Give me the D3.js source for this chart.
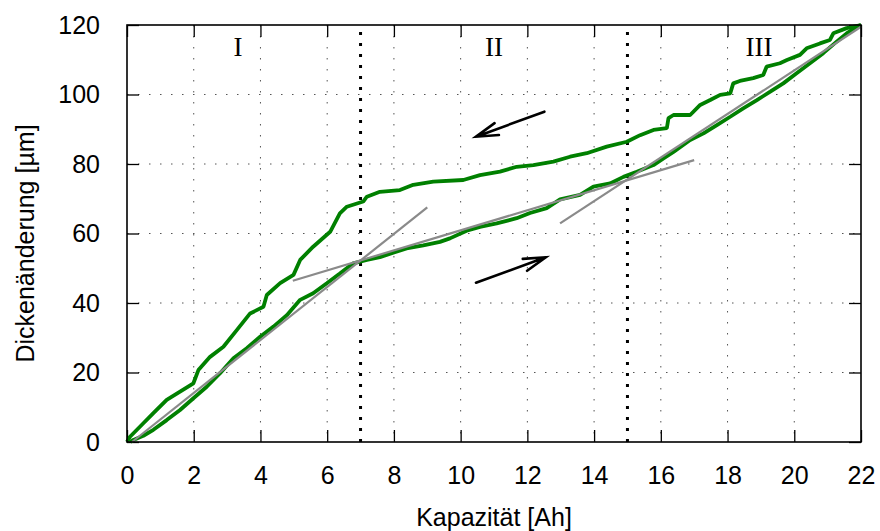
<!DOCTYPE html>
<html>
<head>
<meta charset="utf-8">
<script src="https://cdn.jsdelivr.net/npm/d3@7"></script>
<style>
  html, body { margin: 0; padding: 0; background: #fff; }
  svg { display: block; }
</style>
</head>
<body>
<svg id="chart" width="880" height="531"></svg>
<script>
// ---- data ----
const xTicks = [0, 2, 4, 6, 8, 10, 12, 14, 16, 18, 20, 22];
const yTicks = [0, 20, 40, 60, 80, 100, 120];
const xTitle = "Kapazität [Ah]";
const yTitle = "Dickenänderung [µm]";

// charge curve (lower branch)
const chargeX = [0.1,0.19,0.49,0.79,1.19,1.59,1.99,2.39,2.79,3.19,3.59,3.99,4.39,4.79,5.19,5.58,5.99,6.38,6.78,7.19,7.58,7.98,8.38,8.88,9.38,9.68,10.18,10.58,11.08,11.68,12.08,12.58,12.98,13.58,13.98,14.48,14.88,15.28,15.78,16.08,16.38,16.88,17.28,17.68,18.08,18.47,18.88,19.28,19.67,20.07,20.47,20.87,21.27,21.57,21.87,22.0];
const chargeY = [0,0.6,1.8,3.5,6.3,9.2,12.6,15.9,19.8,24.1,27.0,30.3,33.2,36.5,40.9,42.8,45.7,48.5,51.4,52.4,53.2,54.5,55.7,56.6,57.6,58.6,60.8,61.9,62.9,64.4,65.9,67.3,69.8,71.1,73.5,74.4,76.3,77.8,79.7,81.6,83.5,86.9,88.8,91.2,93.6,96.0,98.4,100.8,103.2,106.1,109.0,111.9,115.2,117.6,119.5,120];

// discharge curve (upper branch)
const dischargeX = [0.0,0.09,0.49,0.79,1.19,1.59,1.99,2.14,2.49,2.89,3.29,3.69,4.09,4.19,4.59,4.99,5.19,5.58,6.09,6.38,6.59,7.08,7.19,7.58,8.18,8.58,9.18,10.08,10.58,11.18,11.68,12.18,12.78,13.28,13.78,14.38,14.98,15.38,15.78,16.18,16.23,16.38,16.88,17.18,17.48,17.78,18.08,18.17,18.37,18.77,19.07,19.17,19.57,19.78,20.17,20.37,20.77,21.07,21.17,21.57,22.0];
const dischargeY = [0,1.5,5.4,8.3,12.1,14.5,16.9,20.7,24.5,27.4,32.2,37.0,38.9,42.3,45.7,48.1,52.4,56.2,60.5,65.8,67.7,69.2,70.6,72.0,72.5,74.0,74.9,75.4,76.8,77.8,79.2,79.7,80.7,82.1,83.1,85.0,86.4,88.3,89.8,90.3,93.2,94.1,94.1,97.0,98.4,99.9,100.3,103.2,103.9,104.7,105.6,108.0,109.0,109.9,111.4,113.3,114.7,115.7,117.6,119.1,120];

// fitted straight lines [x1, y1, x2, y2]
const fitLine1 = [0.15, 0, 9.0, 67.5];
const fitLine2 = [4.97, 46.4, 17.0, 81.1];
const fitLine3 = [12.98, 62.9, 22.0, 119.5];

// region boundaries
const boundaries = [7, 15];

// direction arrows [xTail, yTail, xTip, yTip]
const arrowDischarge = [12.51, 95.05, 10.46, 87.86];
const arrowCharge = [10.46, 45.85, 12.55, 53.15];

// region labels
const regionLabels = ["I", "II", "III"];
const regionLabelX = [3.33, 11.0, 18.94];
const regionLabelY = [111.0, 111.0, 111.0];

// ---- layout ----
const W = 880, H = 531;
const m = {left: 127, right: 19, top: 25, bottom: 89};
const iw = W - m.left - m.right, ih = H - m.top - m.bottom;

const svg = d3.select("#chart");
const g = svg.append("g").attr("transform", `translate(${m.left},${m.top})`);

const x = d3.scaleLinear().domain([0, 22]).range([0, iw]);
const y = d3.scaleLinear().domain([0, 120]).range([ih, 0]);

// grid
const gridStyle = sel => sel.attr("stroke", "#555").attr("stroke-width", 1).attr("stroke-dasharray", "1.5,9.5");
g.append("g").selectAll("line").data(xTicks.filter(t => t > 0 && t < 22)).join("line")
  .attr("x1", d => x(d)).attr("x2", d => x(d)).attr("y1", 0).attr("y2", ih).call(gridStyle);
g.append("g").selectAll("line").data(yTicks.filter(t => t > 0 && t < 120)).join("line")
  .attr("y1", d => y(d)).attr("y2", d => y(d)).attr("x1", 0).attr("x2", iw).call(gridStyle);

// axes (inner ticks, mirrored)
const tickLen = 12;
const font = "'Liberation Sans', Arial, sans-serif";
const axB = g.append("g").attr("transform", `translate(0,${ih})`)
  .call(d3.axisBottom(x).tickValues(xTicks).tickSizeInner(-tickLen).tickSizeOuter(0).tickPadding(tickLen + 12));
const axL = g.append("g")
  .call(d3.axisLeft(y).tickValues(yTicks).tickSizeInner(-tickLen).tickSizeOuter(0).tickPadding(tickLen + 15));
const axT = g.append("g")
  .call(d3.axisTop(x).tickValues(xTicks).tickSizeInner(-tickLen).tickSizeOuter(0).tickFormat(""));
const axR = g.append("g").attr("transform", `translate(${iw},0)`)
  .call(d3.axisRight(y).tickValues(yTicks).tickSizeInner(-tickLen).tickSizeOuter(0).tickFormat(""));
[axB, axL, axT, axR].forEach(a => {
  a.select(".domain").remove();
  a.selectAll(".tick line").attr("stroke", "#000").attr("stroke-width", 1.3);
  a.selectAll("text").attr("font-family", font).attr("font-size", 25).attr("fill", "#000");
});

// boundaries
g.append("g").selectAll("line").data(boundaries).join("line")
  .attr("x1", d => x(d)).attr("x2", d => x(d)).attr("y1", y(0)).attr("y2", y(120))
  .attr("stroke", "#000").attr("stroke-width", 3).attr("stroke-dasharray", "3,8");

// curves
const line = d3.line().x(d => x(d[0])).y(d => y(d[1])).curve(d3.curveLinear);
const chargeData = chargeX.map((v, i) => [v, chargeY[i]]);
const dischargeData = dischargeX.map((v, i) => [v, dischargeY[i]]);
[chargeData, dischargeData].forEach(dd => {
  g.append("path").datum(dd).attr("d", line)
    .attr("fill", "none").attr("stroke", "#008000").attr("stroke-width", 3.8)
    .attr("stroke-linejoin", "bevel");
});

// fit lines (drawn above the curves)
g.append("g").selectAll("line").data([fitLine1, fitLine2, fitLine3]).join("line")
  .attr("x1", d => x(d[0])).attr("y1", d => y(d[1])).attr("x2", d => x(d[2])).attr("y2", d => y(d[3]))
  .attr("stroke", "#8a8a8a").attr("stroke-width", 2.2);

// arrows
function drawArrow(a) {
  const x1 = x(a[0]), y1 = y(a[1]), x2 = x(a[2]), y2 = y(a[3]);
  const ang = Math.atan2(y1 - y2, x1 - x2);
  const L = 23, half = 16 * Math.PI / 180;
  const p1 = [x2 + L * Math.cos(ang + half), y2 + L * Math.sin(ang + half)];
  const p2 = [x2 + L * Math.cos(ang - half), y2 + L * Math.sin(ang - half)];
  g.append("path")
    .attr("d", `M${x1},${y1}L${x2},${y2}M${p1[0]},${p1[1]}L${x2},${y2}L${p2[0]},${p2[1]}`)
    .attr("fill", "none").attr("stroke", "#000").attr("stroke-width", 2.6).attr("stroke-linecap", "round");
}
drawArrow(arrowDischarge);
drawArrow(arrowCharge);

// region labels
g.append("g").selectAll("text").data(regionLabels).join("text")
  .attr("x", (d, i) => x(regionLabelX[i])).attr("y", (d, i) => y(regionLabelY[i]))
  .attr("text-anchor", "middle").attr("font-family", "'Liberation Serif', 'Times New Roman', serif")
  .attr("font-size", 27).attr("fill", "#000").text(d => d);

// border
g.append("rect").attr("x", 0).attr("y", 0).attr("width", iw).attr("height", ih)
  .attr("fill", "none").attr("stroke", "#000").attr("stroke-width", 1.6);

// titles
svg.append("text").attr("x", m.left + iw / 2).attr("y", 526).attr("text-anchor", "middle")
  .attr("font-family", font).attr("font-size", 25).attr("fill", "#000").text(xTitle);
svg.append("text").attr("transform", `translate(34,${m.top + ih / 2 + 10}) rotate(-90)`).attr("text-anchor", "middle")
  .attr("font-family", font).attr("font-size", 25).attr("fill", "#000").text(yTitle);
</script>
</body>
</html>
